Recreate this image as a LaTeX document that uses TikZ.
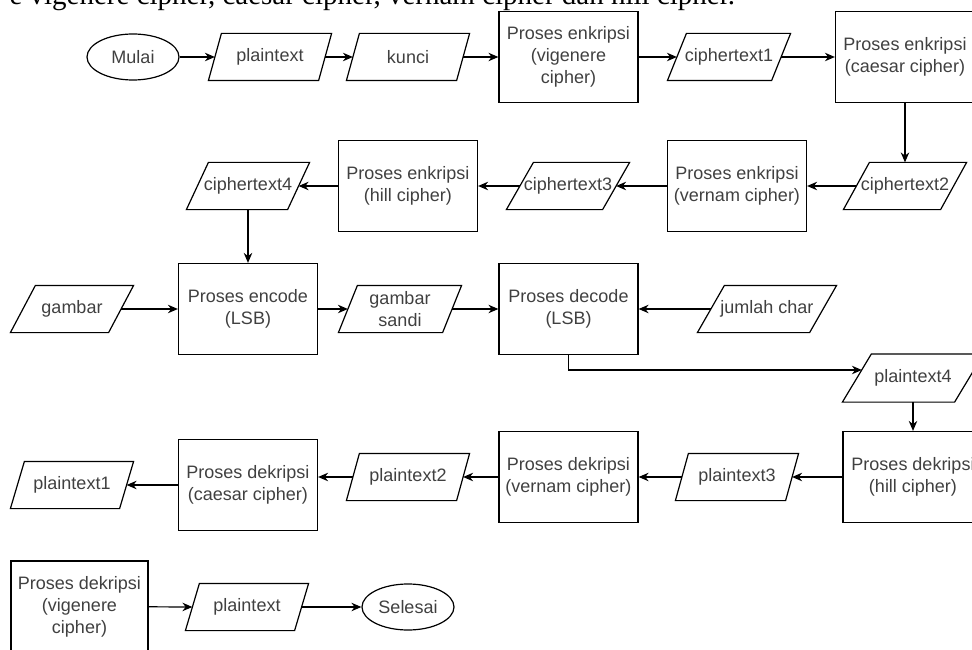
\documentclass[tikz,border=0pt]{standalone}
\usepackage{fontspec}
\setmainfont{Liberation Serif}
\setsansfont{Liberation Sans}
\usetikzlibrary{shapes.geometric,arrows.meta}

\def\boxw{139pt}
\def\boxh{91pt}

\begin{document}
\begin{tikzpicture}[->,>={Stealth[length=10pt,width=8.5pt]},line width=1.2pt,x=1pt,y=-1pt,font=\sffamily\fontsize{18}{22}\selectfont]
    \tikzstyle{proc}=[rectangle,draw=black,minimum width=\boxw,minimum height=\boxh,inner sep=0pt,align=center,text=black!75]
    \tikzstyle{term}=[ellipse,draw=black,minimum width=92pt,minimum height=46pt,inner sep=0pt,text=black!75]
    \tikzstyle{io}=[rectangle,minimum width=122pt,minimum height=46pt,inner sep=0pt,align=center,text=black!75]

    \useasboundingbox (0,0) rectangle (972,650);

    % line of the page above the chart
    \node[anchor=base east,font=\rmfamily\fontsize{29}{34}\selectfont] (intro) at (739,4.5)
        {e vigenere cipher, caesar cipher, vernam cipher dan hill cipher.};

    % enkripsi
    \node[term] (mulai) at (133,57) {Mulai};
    \node[io] (pt0) at (270,57) {plaintext};
    \node[io] (kunci) at (408,57) {kunci};
    \node[proc] (enk1) at (568.5,57) {Proses enkripsi\\(vigenere\\cipher)};
    \node[io] (ct1) at (729,57) {ciphertext1};
    \node[proc] (enk2) at (905,57) {Proses enkripsi\\(caesar cipher)};

    \node[io] (ct2) at (905,186) {ciphertext2};
    \node[proc] (enk3) at (737,186) {Proses enkripsi\\(vernam cipher)};
    \node[io] (ct3) at (568,186) {ciphertext3};
    \node[proc] (enk4) at (408,186) {Proses enkripsi\\(hill cipher)};
    \node[io] (ct4) at (248,186) {ciphertext4};

    % steganografi
    \node[io] (gambar) at (72,309) {gambar};
    \node[proc] (encode) at (248,309) {Proses encode\\(LSB)};
    \node[io] (sandi) at (400,309) {gambar\\sandi};
    \node[proc] (decode) at (568.5,309) {Proses decode\\(LSB)};
    \node[io,minimum width=138pt] (jumlah) at (767,309) {jumlah char};
    \node[io,minimum width=140pt,minimum height=47pt] (pt4) at (913,378) {plaintext4};

    % dekripsi
    \node[proc,minimum width=140pt] (dek1) at (913,477) {Proses dekripsi\\(hill cipher)};
    \node[io] (pt3) at (737,477) {plaintext3};
    \node[proc] (dek2) at (568.5,477) {Proses dekripsi\\(vernam cipher)};
    \node[io] (pt2) at (408,477) {plaintext2};
    \node[proc] (dek3) at (248,485) {Proses dekripsi\\(caesar cipher)};
    \node[io] (pt1) at (72,485) {plaintext1};

    \node[proc,minimum width=137pt] (dek4) at (79.5,606.5) {Proses dekripsi\\(vigenere\\cipher)};
    \node[io] (pt5) at (247,607) {plaintext};
    \node[term] (selesai) at (408,607) {Selesai};

    % parallelogram outlines, with a point in the middle of each slanted side
    \foreach \n/\s in {pt0/13,kunci/13,ct1/19,ct2/26,ct3/27,ct4/22,gambar/25,sandi/19,
                       jumlah/27,pt4/29,pt3/13,pt2/13,pt1/14,pt5/14} {
        \draw[-,line join=miter] ([xshift=\s pt]\n.north west) -- (\n.north east)
            -- ([xshift=-\s pt]\n.south east) -- (\n.south west) -- cycle;
        \coordinate (\n-w) at ([xshift={\s pt/2}]\n.west);
        \coordinate (\n-e) at ([xshift={-\s pt/2}]\n.east);
    }

    \foreach \src/\dst in {mulai/pt0-w,pt0-e/kunci-w,kunci-e/enk1,enk1/ct1-w,ct1-e/enk2,enk2/ct2,
                           ct2-w/enk3,enk3/ct3-e,ct3-w/enk4,enk4/ct4-e,ct4/encode,
                           gambar-e/encode,encode/sandi-w,sandi-e/decode,jumlah-w/decode,
                           pt4/dek1,dek1/pt3-e,pt3-w/dek2,dek2/pt2-e,dek3/pt1-e,
                           dek4/pt5-w,pt5-e/selesai}
        \path (\src) edge (\dst);

    \draw (pt2-w) -- (pt2-w -| dek3.east);
    \draw (decode.south) |- ([shift={(5pt,8pt)}]pt4-w);
\end{tikzpicture}
\end{document}
